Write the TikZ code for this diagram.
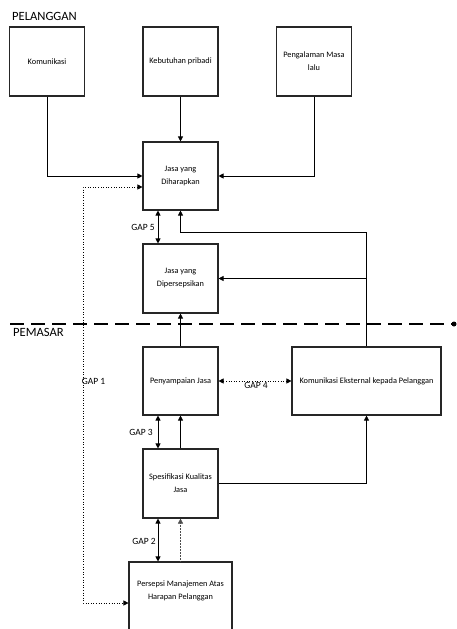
\documentclass[tikz,border=0pt]{standalone}
\usepackage{fontspec}
\setmainfont{Carlito}
\usetikzlibrary{arrows.meta,calc}
\begin{document}
\begin{tikzpicture}[x=1pt,y=-1pt,
  box/.style={draw=black!85,line width=1.1pt,rectangle,minimum width=75pt,minimum height=69pt,align=center,font=\fontsize{8.3}{13}\selectfont,inner sep=1pt},
  arr/.style={line width=0.8pt,-{Triangle[length=5pt,width=5pt]}},
  darr/.style={line width=0.8pt,{Triangle[length=5pt,width=5pt]}-{Triangle[length=5pt,width=5pt]}},
  dotarr/.style={line width=0.6pt,dotted,-{Triangle[length=5pt,width=5pt]}},
  ddotarr/.style={line width=0.6pt,dotted,{Triangle[length=5pt,width=5pt]}-{Triangle[length=5pt,width=5pt]}},
  gap/.style={font=\fontsize{9.5}{11}\selectfont,inner sep=0pt},
  head/.style={font=\fontsize{12.6}{14}\selectfont,inner sep=0pt}]
\useasboundingbox (0,0) rectangle (457,629);
\clip (0,0) rectangle (457,629);
\node[head] (pel) at (44.5,16) {PELANGGAN};
\node[head] (pem) at (38.5,332) {PEMASAR};
\node[box] (kom) at (47,61.5) {Komunikasi};
\node[box] (keb) at (180.5,61.5) {Kebutuhan pribadi};
\node[box] (pen) at (314,61.5) {Pengalaman Masa\\lalu};
\node[box,minimum height=68pt] (har) at (180.5,176) {Jasa yang\\Diharapkan};
\node[box] (per) at (180.5,278.5) {Jasa yang\\Dipersepsikan};
\node[box,minimum height=68pt] (pny) at (180.5,381) {Penyampaian Jasa};
\node[box,minimum width=149pt,minimum height=68pt] (eks) at (366.5,381) {Komunikasi Eksternal kepada Pelanggan};
\node[box] (spe) at (180.5,483.5) {Spesifikasi Kualitas\\Jasa};
\node[box,minimum width=103pt,minimum height=76pt] (pm) at (180.5,600) {Persepsi Manajemen Atas\\Harapan Pelanggan\\[6pt]};
% top inputs
\draw[arr] (kom.south) |- (har.west);
\draw[arr] (keb.south) -- (har.north);
\draw[arr] (pen.south) |- (har.east);
% GAP 1 dotted
\draw[dotarr,{Triangle[length=5pt,width=5pt]}-{Triangle[length=5pt,width=5pt]}] ([yshift=-11pt]har.west) -| (83,400) |- ([yshift=-3pt]pm.west);
\node[gap] (g1) at (93.5,381) {GAP 1};
% GAP 5
\draw[darr] ([xshift=-22.5pt]har.south) -- ([xshift=-22.5pt]per.north);
\node[gap] (g5) at (143,227) {GAP 5};
% external communication feedback
\draw[arr] (eks.north) -- (eks.north |- 0,232) -| (har.south);
\draw[arr] (eks.north |- per.east) -- (per.east);
% divider
\coordinate (dl) at (10,324);
\node[circle,fill,inner sep=0pt,minimum size=5pt] (dot) at (454,324) {};
\draw[line width=1.2pt,dash pattern=on 14pt off 7pt] (dl) -- (dot);
% delivery to perceived
\draw[arr] (pny.north) -- (per.south);
% GAP 4
\draw[ddotarr] (pny.east) -- (eks.west);
\node[gap] (g4) at (256,385.5) {GAP 4};
% GAP 3
\draw[darr] ([xshift=-22.5pt]pny.south) -- ([xshift=-22.5pt]spe.north);
\draw[arr] (spe.north) -- (pny.south);
\node[gap] (g3) at (141,432) {GAP 3};
% spec to external
\draw[arr] (spe.east) -| (eks.south);
% GAP 2
\draw[darr] ([xshift=-22.5pt]spe.south) -- ([xshift=-22.5pt]pm.north);
\draw[line width=0.5pt,densely dotted,black!70,-{Triangle[length=5pt,width=5pt]}] (pm.north) -- (spe.south);
\node[gap] (g2) at (144,541) {GAP 2};
\end{tikzpicture}
\end{document}
